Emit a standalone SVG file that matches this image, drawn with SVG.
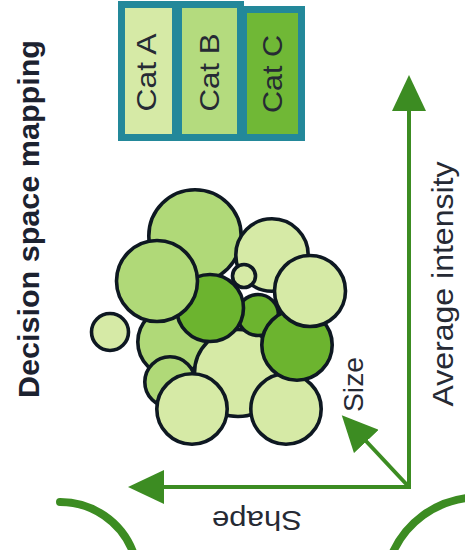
<svg xmlns="http://www.w3.org/2000/svg" width="465" height="550" viewBox="0 0 465 550">
  <style>
    .title { font-family: "Liberation Sans", Arial, sans-serif; font-weight: bold; font-size: 30px; fill: #1c2230; text-anchor: middle; }
    .label { font-family: "Liberation Sans", Arial, sans-serif; font-size: 28px; fill: #262a34; text-anchor: middle; }
    .cat { stroke: #23889a; stroke-width: 7; }
    .catA { fill: #d6eaa6; }
    .catB { fill: #b4db7e; }
    .catC { fill: #70b836; }
    .blob { stroke: #0e1822; stroke-width: 3.6; }
    .light { fill: #d6eaa6; }
    .mid { fill: #b0d978; }
    .dark { fill: #6cb42f; }
    .axis { stroke: #3c8c22; stroke-width: 4; fill: none; stroke-linecap: square; }
    .arc { stroke: #3c8c22; stroke-width: 8; fill: none; stroke-linecap: round; }
  </style>
  <defs>
    <marker id="head" markerUnits="userSpaceOnUse" viewBox="0 0 36 34" markerWidth="36" markerHeight="34" refX="2" refY="17" orient="auto">
      <path d="M0,0 L36,17 L0,34 Z" fill="#3c8c22"/>
    </marker>
  </defs>

  <!-- title -->
  <g id="title">
    <text class="title" transform="translate(38.5,219) rotate(-90)" textLength="358" lengthAdjust="spacingAndGlyphs">Decision space mapping</text>
  </g>

  <!-- category legend -->
  <g id="cat-a">
    <rect class="cat catA" x="121.5" y="4.5" width="54" height="133"/>
    <text class="label" transform="translate(155.5,72.5) rotate(-90)" textLength="78" lengthAdjust="spacingAndGlyphs">Cat A</text>
  </g>
  <g id="cat-b">
    <rect class="cat catB" x="178.5" y="4.5" width="62" height="133"/>
    <text class="label" transform="translate(218.5,72.5) rotate(-90)" textLength="78" lengthAdjust="spacingAndGlyphs">Cat B</text>
  </g>
  <g id="cat-c">
    <rect class="cat catC" x="243.5" y="9.5" width="58" height="128"/>
    <text class="label" transform="translate(282,74) rotate(-90)" textLength="78" lengthAdjust="spacingAndGlyphs">Cat C</text>
  </g>

  <!-- cluster of samples, back to front -->
  <g id="cluster">
    <circle class="blob mid" cx="195" cy="236" r="46.2"/>
    <circle class="blob light" cx="272" cy="255" r="36.2"/>
    <circle class="blob light" cx="244" cy="276" r="11.5"/>
    <circle class="blob mid" cx="172" cy="342" r="34.2"/>
    <circle class="blob light" cx="238" cy="373" r="43.5"/>
    <circle class="blob mid" cx="170" cy="382" r="25.2"/>
    <circle class="blob light" cx="192" cy="409" r="35.2"/>
    <circle class="blob dark" cx="258" cy="315" r="20.5"/>
    <circle class="blob light" cx="286" cy="409" r="35.2"/>
    <circle class="blob dark" cx="297" cy="345" r="35.2"/>
    <circle class="blob light" cx="310" cy="291" r="35.5"/>
    <circle class="blob dark" cx="210" cy="308" r="33.5"/>
    <circle class="blob mid" cx="157" cy="281" r="40.5"/>
    <circle class="blob light" cx="110" cy="332" r="18.5"/>
  </g>

  <!-- axes -->
  <g id="connectors">
    <line class="axis" x1="409" y1="487" x2="409" y2="109" marker-end="url(#head)"/>
    <line class="axis" x1="409" y1="487" x2="162" y2="487" marker-end="url(#head)"/>
    <line class="axis" x1="409" y1="487" x2="365" y2="440" marker-end="url(#head)" style="stroke-linecap:butt"/>
    <path class="arc" d="M60,502 A78,78 0 0 1 133,552"/>
    <path class="arc" d="M467,498 A94,94 0 0 0 393,552"/>
  </g>

  <!-- axis labels -->
  <g id="axis-labels">
    <text class="label" transform="translate(453,284) rotate(-90)" style="font-size:30px" textLength="245" lengthAdjust="spacingAndGlyphs">Average intensity</text>
    <text class="label" transform="translate(363,384.5) rotate(-90)" textLength="55" lengthAdjust="spacingAndGlyphs">Size</text>
    <text class="label" transform="translate(257,511) rotate(180)" textLength="90" lengthAdjust="spacingAndGlyphs">Shape</text>
  </g>
</svg>
